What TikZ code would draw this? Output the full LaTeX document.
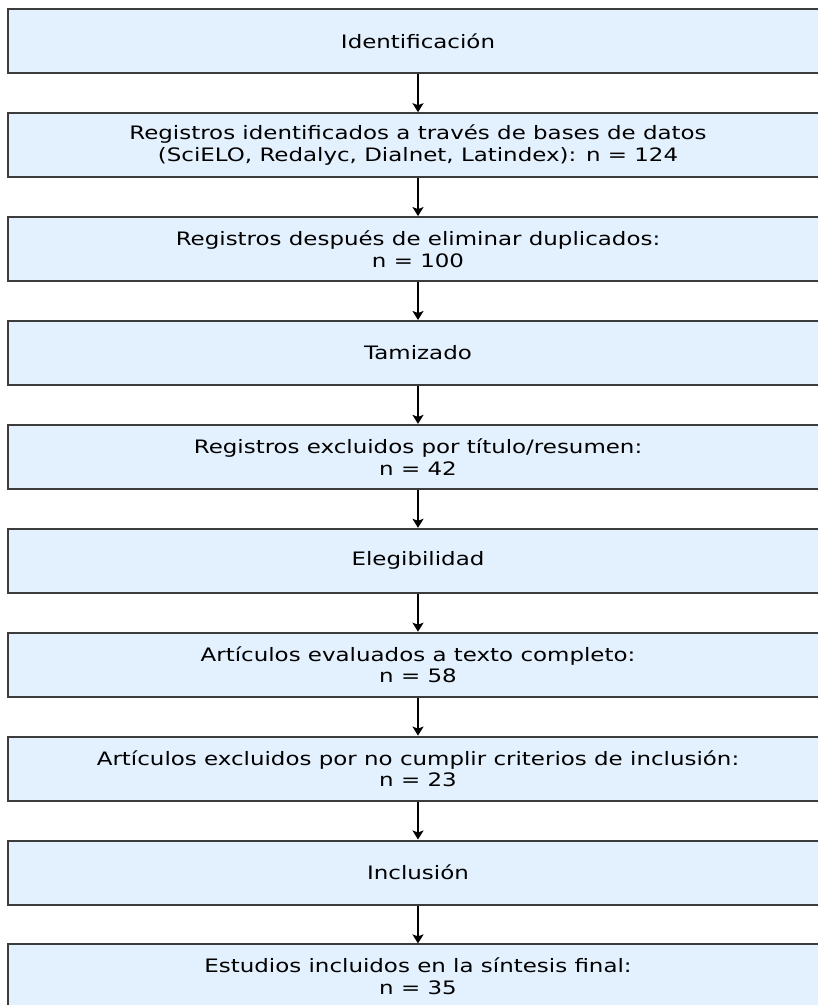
\documentclass[tikz,border=0pt]{standalone}
\usepackage{fontspec}
\setmainfont{DejaVu Sans}[FakeStretch=1.24]
\usetikzlibrary{arrows.meta}
\definecolor{boxfill}{RGB}{227,240,254}
\definecolor{boxedge}{RGB}{60,60,60}
\tikzset{
  flowbox/.style={draw=boxedge, line width=2pt, fill=boxfill, rectangle,
    minimum width=820pt, minimum height=64pt, inner sep=0pt, align=center,
    font=\fontsize{18.5}{21.5}\selectfont, text=black},
  flowarrow/.style={line width=2.2pt, draw=black, -{Stealth[length=9pt,width=11pt,inset=2pt]}}
}
\begin{document}
\begin{tikzpicture}[x=1pt,y=-1pt]
\useasboundingbox (0,0) rectangle (818,1005);
\clip (0,0) rectangle (818,1005);
\node[flowbox] (b1) at (418,41.3) {Identificación};
\node[flowbox] (b2) at (418,145.2) {Registros identificados a través de bases de datos\\(SciELO, Redalyc, Dialnet, Latindex): n = 124};
\node[flowbox] (b3) at (418,249.1) {Registros después de eliminar duplicados:\\n = 100};
\node[flowbox] (b4) at (418,353.0) {Tamizado};
\node[flowbox] (b5) at (418,456.9) {Registros excluidos por título/resumen:\\n = 42};
\node[flowbox] (b6) at (418,560.8) {Elegibilidad};
\node[flowbox] (b7) at (418,664.7) {Artículos evaluados a texto completo:\\n = 58};
\node[flowbox] (b8) at (418,768.6) {Artículos excluidos por no cumplir criterios de inclusión:\\n = 23};
\node[flowbox] (b9) at (418,872.5) {Inclusión};
\node[flowbox] (b10) at (418,976.4) {Estudios incluidos en la síntesis final:\\n = 35};
\foreach \a/\b in {b1/b2,b2/b3,b3/b4,b4/b5,b5/b6,b6/b7,b7/b8,b8/b9,b9/b10}
  \draw[flowarrow] (\a.south) -- (\b.north);
\end{tikzpicture}
\end{document}
